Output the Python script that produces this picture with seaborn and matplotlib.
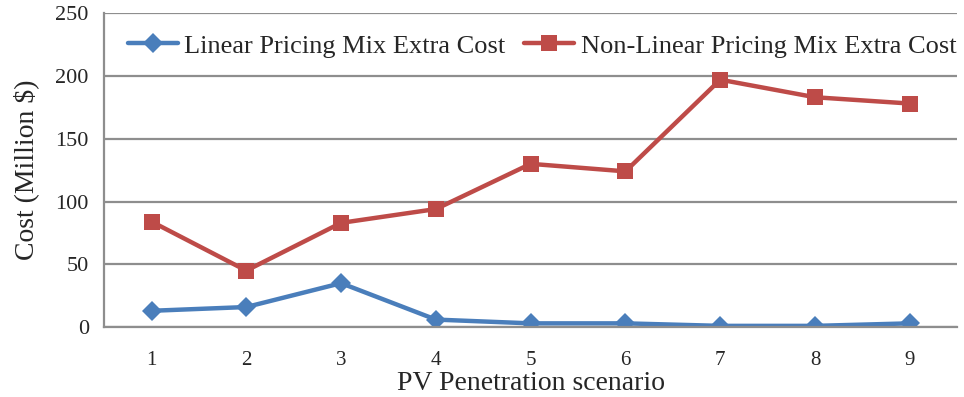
import numpy as np
import pandas as pd
import matplotlib
matplotlib.use("Agg")
import matplotlib.pyplot as plt
import seaborn as sns

# Extra cost per PV penetration scenario (million $)
scenarios = [1, 2, 3, 4, 5, 6, 7, 8, 9]
linear_cost = [13, 16, 35, 6, 3, 3, 1, 1, 3]
nonlinear_cost = [84, 45, 83, 94, 130, 124, 197, 183, 178]
series_names = ["Linear Pricing Mix Extra Cost", "Non-Linear Pricing Mix Extra Cost"]

df = pd.DataFrame({
    "scenario": scenarios * 2,
    "cost": linear_cost + nonlinear_cost,
    "series": [series_names[0]] * len(scenarios) + [series_names[1]] * len(scenarios),
})

sns.set_theme(style="white")
plt.rcParams["font.family"] = ["Liberation Serif", "DejaVu Serif"]

fig = plt.figure(figsize=(9.64, 3.97), dpi=100)
ax = fig.add_axes([0.108, 0.176, 0.885, 0.791])

palette = {series_names[0]: "#4A7EBB", series_names[1]: "#BE4B48"}
markers = {series_names[0]: "D", series_names[1]: "s"}
sizes = {series_names[0]: 10, series_names[1]: 12}

for name in series_names:
    sub = df[df["series"] == name]
    sns.lineplot(data=sub, x="scenario", y="cost", ax=ax, color=palette[name],
                 marker=markers[name], markersize=sizes[name], linewidth=3.2,
                 markeredgewidth=0, label=name)

grid_color = "#8E8E8E"
ax.set_xlim(0.5, 9.5)
ax.set_ylim(0, 250)
ax.set_yticks(np.arange(0, 251, 50))
ax.yaxis.grid(True, color=grid_color, linewidth=1.6)
ax.set_axisbelow(True)

# category boundaries carry the tick marks, labels sit at the centers
ax.set_xticks(np.arange(0.5, 9.6, 1.0))
ax.set_xticklabels([])
ax.set_xticks(scenarios, minor=True)
ax.set_xticklabels([str(s) for s in scenarios], minor=True, fontsize=15)
ax.tick_params(axis="x", which="major", length=5, width=1.6, color=grid_color, direction="out")
ax.tick_params(axis="x", which="minor", length=0, pad=17)
ax.tick_params(axis="y", length=7, width=1.6, color=grid_color, direction="out", labelsize=16, pad=4)

for side in ["top", "right"]:
    ax.spines[side].set_visible(False)
for side in ["left", "bottom"]:
    ax.spines[side].set_color(grid_color)
    ax.spines[side].set_linewidth(1.6)

ax.set_xlabel("PV Penetration scenario", fontsize=20, labelpad=1)
ax.set_ylabel("Cost (Million $)", fontsize=20, labelpad=12)

leg = ax.legend(loc="upper left", bbox_to_anchor=(0.012, 0.975), ncol=2, frameon=False,
                fontsize=19, handlelength=1.9, columnspacing=0.7, handletextpad=0.25,
                borderaxespad=0.1)

fig.savefig("out.png", dpi=100)
